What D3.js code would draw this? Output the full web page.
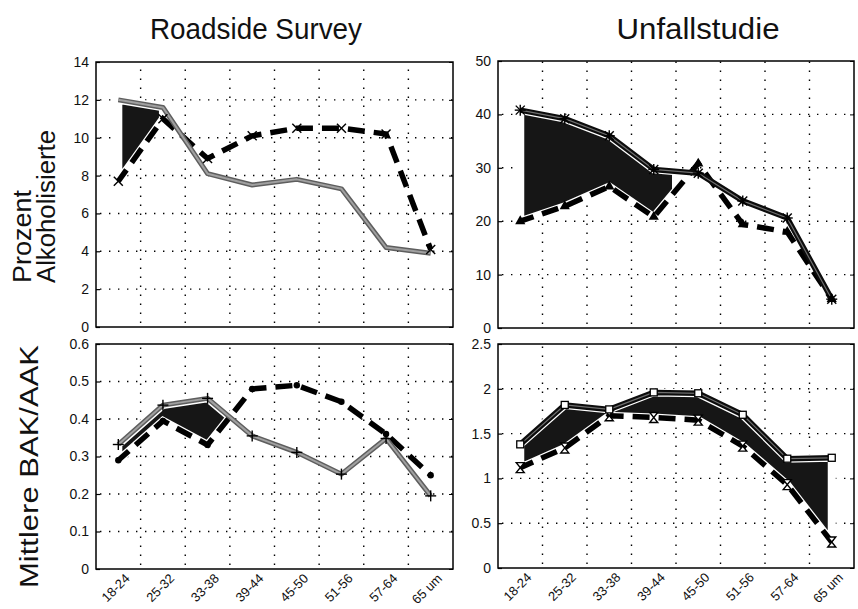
<!DOCTYPE html>
<html lang="de">
<head>
    <meta charset="UTF-8">
    <title>Roadside Survey / Unfallstudie</title>
    <script src="https://cdnjs.cloudflare.com/ajax/libs/d3/7.8.5/d3.min.js"></script>
    <style>
        body { margin: 0; background: #fff; font-family: "Liberation Sans", Arial, sans-serif; }
        .tick text { font-size: 14px; fill: #111; }
        .xlab .tick text { font-size: 13px; }
        .title, .ylab { fill: #111; }
    </style>
</head>
<body>
    <div id="chart"></div>

    <script>
        // Altersgruppen (x-Achse)
        const ageGroups = ["18-24", "25-32", "33-38", "39-44", "45-50", "51-56", "57-64", "65 um"];

        // Prozent Alkoholisierte
        const roadsidePctSolid  = [12.0, 11.6, 8.1, 7.5, 7.8, 7.3, 4.2, 3.9];
        const roadsidePctDashed = [7.7, 11.0, 8.9, 10.1, 10.5, 10.5, 10.2, 4.1];
        const unfallPctSolid    = [40.8, 39.2, 36.0, 29.7, 29.0, 23.8, 20.6, 5.4];
        const unfallPctDashed   = [20.0, 22.8, 26.5, 20.8, 30.8, 19.4, 18.0, 5.4];

        // Mittlere BAK/AAK
        const roadsideBakSolid  = [0.332, 0.437, 0.455, 0.355, 0.311, 0.253, 0.348, 0.195];
        const roadsideBakDashed = [0.29, 0.395, 0.331, 0.48, 0.49, 0.446, 0.36, 0.25];
        const unfallBakSolid    = [1.38, 1.82, 1.77, 1.96, 1.95, 1.71, 1.22, 1.23];
        const unfallBakDashed   = [1.12, 1.34, 1.70, 1.68, 1.65, 1.36, 0.93, 0.29];

        // shaded stretch between the two lines (index range)
        const roadsidePctFill = [0, 1];
        const unfallPctFill   = [0, 3.5];
        const roadsideBakFill = [0, 2.5];
        const unfallBakFill   = [0, 7];

        // y tick labels
        const roadsidePctTicks = [0, 2, 4, 6, 8, 10, 12, 14];
        const unfallPctTicks   = [0, 10, 20, 30, 40, 50];
        const roadsideBakTicks = [0, 0.1, 0.2, 0.3, 0.4, 0.5, 0.6];
        const unfallBakTicks   = [0, 0.5, 1, 1.5, 2, 2.5];

        const width = 858, height = 609;
        const svg = d3.select("#chart").append("svg")
            .attr("width", width).attr("height", height);

        const panels = [
            { x0: 96, x1: 453, y0: 62, y1: 327, solid: roadsidePctSolid, dashed: roadsidePctDashed,
              fill: roadsidePctFill, ticks: roadsidePctTicks, look: "gray", mSolid: null, mDashed: "x", xlab: false },
            { x0: 498, x1: 854, y0: 61, y1: 328, solid: unfallPctSolid, dashed: unfallPctDashed,
              fill: unfallPctFill, ticks: unfallPctTicks, look: "dark", mSolid: "star", mDashed: "tri", xlab: false },
            { x0: 96, x1: 453, y0: 344, y1: 569, solid: roadsideBakSolid, dashed: roadsideBakDashed,
              fill: roadsideBakFill, ticks: roadsideBakTicks, look: "gray", mSolid: "plus", mDashed: "dot", xlab: true },
            { x0: 498, x1: 854, y0: 344, y1: 568, solid: unfallBakSolid, dashed: unfallBakDashed,
              fill: unfallBakFill, ticks: unfallBakTicks, look: "dark", mSolid: "square", mDashed: "hour", xlab: true }
        ];

        function lerp(arr, t) {
            const i = Math.min(Math.floor(t), arr.length - 2);
            const f = t - i;
            return arr[i] + (arr[i + 1] - arr[i]) * f;
        }

        function marker(g, type, cx, cy) {
            const s = 4.5;
            if (type === "x" || type === "star" || type === "plus") {
                const segs = [];
                if (type !== "plus") segs.push([-s, -s, s, s], [-s, s, s, -s]);
                if (type !== "x") segs.push([-s - 1, 0, s + 1, 0], [0, -s - 1, 0, s + 1]);
                segs.forEach(d => g.append("line")
                    .attr("x1", cx + d[0]).attr("y1", cy + d[1])
                    .attr("x2", cx + d[2]).attr("y2", cy + d[3])
                    .attr("stroke", "#000").attr("stroke-width", 1.4));
            } else if (type === "tri") {
                g.append("path").attr("d", d3.symbol(d3.symbolTriangle, 45)())
                    .attr("transform", `translate(${cx},${cy})`).attr("fill", "#000");
            } else if (type === "dot") {
                g.append("circle").attr("cx", cx).attr("cy", cy).attr("r", 3.2).attr("fill", "#000");
            } else if (type === "square") {
                g.append("rect").attr("x", cx - 3.5).attr("y", cy - 3.5).attr("width", 7).attr("height", 7)
                    .attr("fill", "#fff").attr("stroke", "#000").attr("stroke-width", 1.3);
            } else if (type === "hour") {
                g.append("path")
                    .attr("d", `M${cx - 4},${cy - 5}L${cx + 4},${cy - 5}L${cx - 4},${cy + 5}L${cx + 4},${cy + 5}Z`)
                    .attr("fill", "#fff").attr("stroke", "#000").attr("stroke-width", 1.4);
            }
        }

        panels.forEach(p => {
            const g = svg.append("g");
            const x = d3.scaleBand().domain(ageGroups).range([p.x0, p.x1]);
            const cx = i => x(ageGroups[i]) + x.bandwidth() / 2;
            const xt = t => x(ageGroups[0]) + x.bandwidth() / 2 + t * x.step();
            const y = d3.scaleLinear().domain([0, d3.max(p.ticks)]).range([p.y1, p.y0]);

            // dotted grid
            const grid = g.append("g").attr("stroke", "#000").attr("stroke-width", 1.4)
                .attr("stroke-dasharray", "1.4,7.6").attr("stroke-linecap", "butt");
            p.ticks.slice(1, -1).forEach(v => grid.append("line")
                .attr("x1", p.x0 + 4).attr("x2", p.x1).attr("y1", y(v)).attr("y2", y(v)));
            ageGroups.slice(1).forEach(a => grid.append("line")
                .attr("x1", x(a)).attr("x2", x(a)).attr("y1", p.y1 - 4).attr("y2", p.y0));

            // shaded band between the two series
            const [a, b] = p.fill;
            const ts = [a];
            for (let k = Math.ceil(a + 1e-6); k < b; k++) ts.push(k);
            ts.push(b);
            const poly = ts.map(t => [xt(t), y(lerp(p.solid, t))])
                .concat(ts.slice().reverse().map(t => [xt(t), y(lerp(p.dashed, t))]));
            g.append("path").attr("d", "M" + poly.join("L") + "Z")
                .attr("fill", "#161616").attr("stroke", "#fff").attr("stroke-width", 8)
                .attr("stroke-linejoin", "miter");

            const line = d3.line().x((d, i) => cx(i)).y(d => y(d));

            // dashed series
            g.append("path").attr("d", line(p.dashed)).attr("fill", "none")
                .attr("stroke", "#000").attr("stroke-width", 5.5)
                .attr("stroke-dasharray", "17,9").attr("stroke-dashoffset", 3);

            // solid series
            if (p.look === "gray") {
                g.append("path").attr("d", line(p.solid)).attr("fill", "none")
                    .attr("stroke", "#5e5e5e").attr("stroke-width", 5).attr("stroke-linejoin", "round");
                g.append("path").attr("d", line(p.solid)).attr("fill", "none")
                    .attr("stroke", "#a0a0a0").attr("stroke-width", 2).attr("stroke-linejoin", "round");
            } else {
                g.append("path").attr("d", line(p.solid)).attr("fill", "none")
                    .attr("stroke", "#0c0c0c").attr("stroke-width", 5.5).attr("stroke-linejoin", "round");
                g.append("path").attr("d", line(p.solid)).attr("fill", "none")
                    .attr("stroke", "#6e6e6e").attr("stroke-width", 1.2).attr("stroke-linejoin", "round");
            }

            p.dashed.forEach((v, i) => marker(g, p.mDashed, cx(i), y(v)));
            if (p.mSolid) p.solid.forEach((v, i) => marker(g, p.mSolid, cx(i), y(v)));

            // frame
            g.append("rect").attr("x", p.x0).attr("y", p.y0)
                .attr("width", p.x1 - p.x0).attr("height", p.y1 - p.y0)
                .attr("fill", "none").attr("stroke", "#000").attr("stroke-width", 1.5);

            // y axis
            const ya = g.append("g").attr("transform", `translate(${p.x0},0)`)
                .call(d3.axisLeft(y).tickValues(p.ticks).tickSizeInner(-4).tickSizeOuter(0)
                    .tickPadding(7).tickFormat(d3.format("~g")));
            ya.select(".domain").remove();
            ya.selectAll(".tick line").attr("stroke-width", 1.2);
            const yr = g.append("g").attr("transform", `translate(${p.x1},0)`)
                .call(d3.axisRight(y).tickValues(p.ticks).tickSizeInner(-4).tickSizeOuter(0).tickFormat(""));
            yr.select(".domain").remove();

            // x axis labels (bottom row)
            if (p.xlab) {
                const xa = g.append("g").attr("class", "xlab").attr("transform", `translate(0,${p.y1})`)
                    .call(d3.axisBottom(x).tickSize(0).tickPadding(0));
                xa.select(".domain").remove();
                xa.selectAll(".tick text")
                    .attr("text-anchor", "end")
                    .attr("transform", "translate(9,7) rotate(-45)")
                    .attr("dy", "0.35em");
            }
        });

        // titles
        svg.append("text").attr("class", "title").attr("x", 256).attr("y", 39)
            .attr("text-anchor", "middle").attr("font-size", 29)
            .attr("textLength", 212).attr("lengthAdjust", "spacingAndGlyphs").text("Roadside Survey");
        svg.append("text").attr("class", "title").attr("x", 698).attr("y", 39)
            .attr("text-anchor", "middle").attr("font-size", 29)
            .attr("textLength", 163).attr("lengthAdjust", "spacingAndGlyphs").text("Unfallstudie");

        // y labels
        const ylab = (txt, bx, by, len) => svg.append("text").attr("class", "ylab")
            .attr("transform", `translate(${bx},${by}) rotate(-90)`)
            .attr("font-size", 26).attr("textLength", len).attr("lengthAdjust", "spacingAndGlyphs")
            .text(txt);
        ylab("Prozent", 31, 283, 93);
        ylab("Alkoholisierte", 55, 283, 153);
        ylab("Mittlere BAK/AAK", 38, 588, 243);
    </script>
</body>
</html>
